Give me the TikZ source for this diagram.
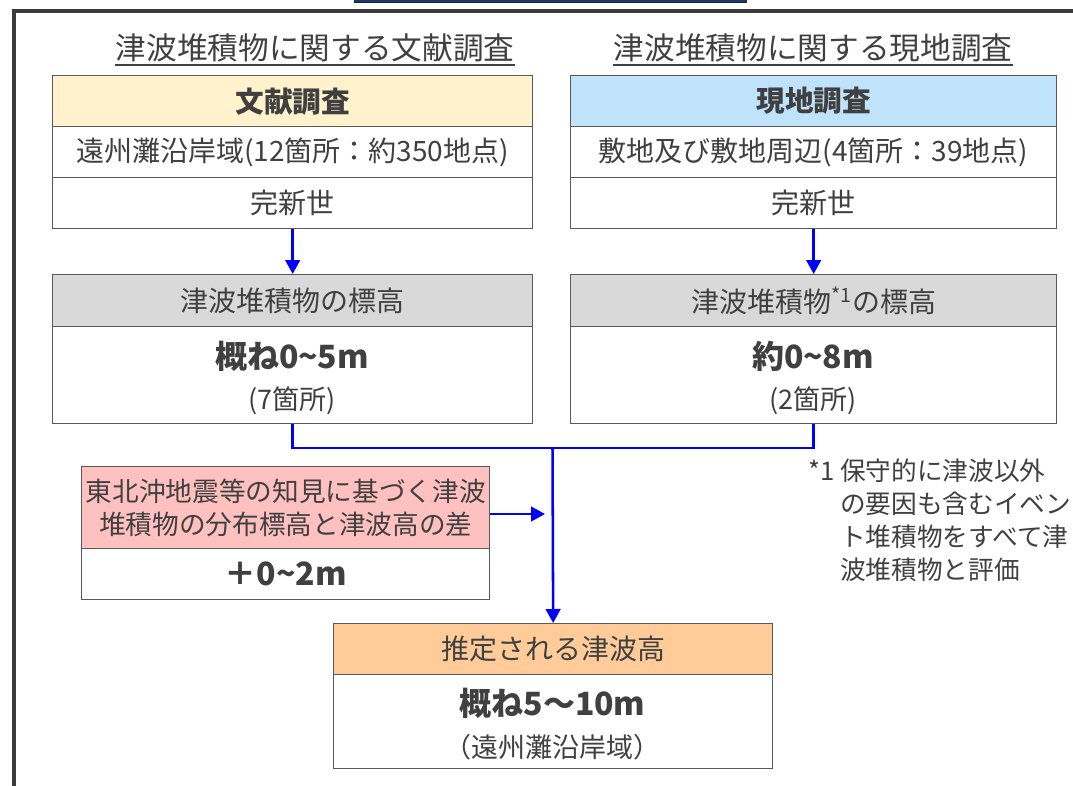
\documentclass[tikz,border=0pt]{standalone}
\usepackage{fontspec}
\setmainfont{Noto Sans CJK JP}
\usetikzlibrary{arrows.meta}
\definecolor{txt}{HTML}{404040}
\definecolor{bord}{HTML}{595959}
\definecolor{framec}{HTML}{3C3C3C}
\definecolor{navy}{HTML}{1F3864}
\definecolor{hy}{HTML}{FFF2CC}
\definecolor{hb}{HTML}{BFE3FB}
\definecolor{hg}{HTML}{D9D9D9}
\definecolor{hp}{HTML}{FFC0C0}
\definecolor{ho}{HTML}{FFCC99}
\definecolor{arrblue}{HTML}{0000FF}
\newcommand\fTitle{\fontsize{23}{27}\selectfont}
\newcommand\fBody{\fontsize{21}{24}\selectfont}
\newcommand\fHead{\fontsize{21.5}{24}\selectfont\bfseries}
\newcommand\fBig{\fontsize{24}{28}\selectfont\bfseries}
\newcommand\fSmall{\fontsize{20.25}{24.75}\selectfont}
\newcommand\fPink{\fontsize{20}{24.75}\selectfont}
\newcommand\fNote{\fontsize{19.25}{24.75}\selectfont}
\tikzset{
  box/.style={draw=bord, line width=1pt, inner sep=0pt, anchor=north west, text=txt, font=\fBody},
  conn/.style={draw=arrblue, line width=1.9pt},
  arr/.style={conn, -{Triangle[length=10.5pt,width=11pt]}},
  titletext/.style={inner sep=0pt, text=txt, font=\fTitle},
  ul/.style={draw=txt, line width=0.9pt},
  plain/.style={inner sep=0pt, text=txt}
}
\begin{document}
\begin{tikzpicture}[x=0.75pt,y=-0.75pt]
\useasboundingbox (0,0) rectangle (1073,785);
% frame and top bar
\filldraw[fill=navy, draw=navy!70!black, line width=0.5pt] (354,-5) rectangle (746,2.5);
\draw[framec, line width=3pt] (13.5,800) -- (13.5,10.5) -- (1100,10.5);

% titles
\node[titletext] (t1) at (315,48) {津波堆積物に関する文献調査};
\draw[ul] ([yshift=-4pt]t1.base west) -- ([yshift=-4pt]t1.base east);
\node[titletext] (t2) at (813,48) {津波堆積物に関する現地調査};
\draw[ul] ([yshift=-4pt]t2.base west) -- ([yshift=-4pt]t2.base east);

% left survey box
\node[box, fill=hy, minimum width=360pt, minimum height=38.25pt, font=\fHead] (L1h) at (52,75) {文献調査};
\node[box, fill=white, minimum width=360pt, minimum height=38.25pt] (L1a) at (52,126) {遠州灘沿岸域(12箇所：約350地点)};
\node[box, fill=white, minimum width=360pt, minimum height=38.25pt] (L1b) at (52,177) {完新世};

% right survey box
\node[box, fill=hb, minimum width=364.5pt, minimum height=38.25pt, font=\fHead] (R1h) at (570,75) {現地調査};
\node[box, fill=white, minimum width=364.5pt, minimum height=38.25pt] (R1a) at (570,126) {敷地及び敷地周辺(4箇所：39地点)};
\node[box, fill=white, minimum width=364.5pt, minimum height=38.25pt] (R1b) at (570,177) {完新世};

% elevation boxes
\node[box, fill=hg, minimum width=360pt, minimum height=39pt] (L2h) at (52,274) {津波堆積物の標高};
\node[box, fill=white, minimum width=360pt, minimum height=72.75pt] (L2b) at (52,326) {};
\node[plain, font=\fBig] (L2v) at (292,356) {概ね0\textasciitilde5m};
\node[plain, font=\fSmall] (L2n) at (292,401) {(7箇所)};

\node[box, fill=hg, minimum width=364.5pt, minimum height=39pt] (R2h) at (570,274) {津波堆積物\textsuperscript{*1}の標高};
\node[box, fill=white, minimum width=364.5pt, minimum height=72.75pt] (R2b) at (570,326) {};
\node[plain, font=\fBig] (R2v) at (813,356) {約0\textasciitilde8m};
\node[plain, font=\fSmall] (R2n) at (813,401) {(2箇所)};

% pink box
\node[box, fill=hp, minimum width=306pt, minimum height=61.5pt, align=center, font=\fPink] (Ph) at (81,466) {東北沖地震等の知見に基づく津波\\堆積物の分布標高と津波高の差};
\node[box, fill=white, minimum width=306pt, minimum height=38.25pt, font=\fBig] (Pb) at (81,548) {＋0\textasciitilde2m};

% result box
\node[box, fill=ho, minimum width=329.25pt, minimum height=38.25pt] (Bh) at (333,623) {推定される津波高};
\node[box, fill=white, minimum width=329.25pt, minimum height=70.5pt] (Bb) at (333,674) {};
\node[plain, font=\fBig] (Bv) at (552.5,703) {概ね5～10m};
\node[plain, font=\fSmall] (Bn) at (552.5,747) {（遠州灘沿岸域）};

% footnote
\node[plain, anchor=north west, align=left, font=\fNote] (fn) at (808,459)
  {*1 保守的に津波以外\\\hspace*{24pt}の要因も含むイベン\\\hspace*{24pt}ト堆積物をすべて津\\\hspace*{24pt}波堆積物と評価};

% connectors
\coordinate (merge) at (552.5,448);
\coordinate (pk) at (545,514);
\draw[arr] (L1b.south -| L2h.north) -- (L2h.north);
\draw[arr] (R1b.south -| R2h.north) -- (R2h.north);
\draw[conn] (L2b.south) |- (merge);
\draw[conn] (R2b.south) |- (merge);
\draw[arr] (merge) -- (Bh.north);
\draw[arr] (Ph.east |- pk) -- (pk);
\end{tikzpicture}
\end{document}
